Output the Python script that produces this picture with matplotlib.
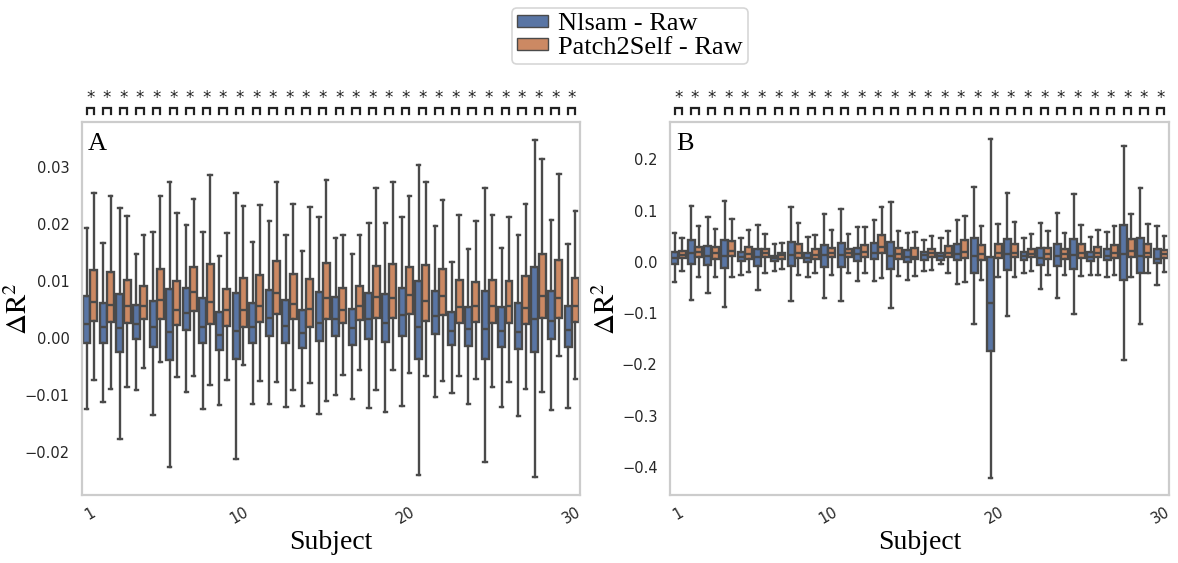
import colorsys
import matplotlib
matplotlib.use("Agg")
import matplotlib.pyplot as plt
import matplotlib.colors as mcolors
import matplotlib.transforms as mtransforms
from matplotlib.patches import Patch

subjects = list(range(1, 31))
series_names = ["Nlsam - Raw", "Patch2Self - Raw"]
tick_subjects = [1, 10, 20, 30]

# ---------- Panel A ----------
a_nl_lo = [-0.0125, -0.0112, -0.0176, -0.0091, -0.0135, -0.0226, -0.0095, -0.0125, -0.0118, -0.0212,
           -0.0115, -0.0116, -0.0121, -0.0119, -0.0133, -0.0099, -0.0106, -0.0123, -0.0130, -0.0119,
           -0.0240, -0.0104, -0.0097, -0.0115, -0.0218, -0.0120, -0.0137, -0.0244, -0.0126, -0.0122]
a_nl_q1 = [-0.0008, -0.0008, -0.0025, -0.0002, -0.0016, -0.0039, 0.0015, -0.0009, -0.0020, -0.0037,
           -0.0009, 0.0003, -0.0009, -0.0017, -0.0005, 0.0003, -0.0012, -0.0002, -0.0007, 0.0004,
           -0.0036, 0.0007, -0.0012, -0.0014, -0.0037, -0.0016, -0.0019, -0.0025, -0.0001, -0.0015]
a_nl_med = [0.0024, 0.0019, 0.0018, 0.0024, 0.0019, 0.0011, 0.0044, 0.0020, 0.0005, 0.0013,
            0.0019, 0.0035, 0.0022, 0.0009, 0.0027, 0.0033, 0.0017, 0.0033, 0.0027, 0.0040,
            0.0019, 0.0039, 0.0013, 0.0016, 0.0016, 0.0013, 0.0011, 0.0034, 0.0030, 0.0015]
a_nl_q3 = [0.0074, 0.0062, 0.0078, 0.0058, 0.0066, 0.0086, 0.0088, 0.0070, 0.0046, 0.0080,
           0.0062, 0.0084, 0.0067, 0.0050, 0.0081, 0.0073, 0.0051, 0.0080, 0.0077, 0.0088,
           0.0101, 0.0083, 0.0046, 0.0054, 0.0083, 0.0054, 0.0061, 0.0125, 0.0082, 0.0057]
a_nl_hi = [0.0194, 0.0166, 0.0229, 0.0148, 0.0186, 0.0273, 0.0199, 0.0186, 0.0144, 0.0255,
           0.0168, 0.0205, 0.0180, 0.0153, 0.0212, 0.0175, 0.0147, 0.0202, 0.0202, 0.0213,
           0.0304, 0.0196, 0.0133, 0.0156, 0.0263, 0.0158, 0.0180, 0.0347, 0.0208, 0.0165]

a_p2s_lo = [-0.0074, -0.0089, -0.0086, -0.0053, -0.0042, -0.0068, -0.0067, -0.0082, -0.0074, -0.0047,
            -0.0075, -0.0077, -0.0091, -0.0079, -0.0111, -0.0065, -0.0056, -0.0091, -0.0055, -0.0061,
            -0.0066, -0.0075, -0.0067, -0.0072, -0.0085, -0.0077, -0.0090, -0.0094, -0.0032, -0.0071]
a_p2s_q1 = [0.0030, 0.0029, 0.0026, 0.0033, 0.0034, 0.0023, 0.0047, 0.0025, 0.0022, 0.0020,
            0.0029, 0.0043, 0.0033, 0.0020, 0.0033, 0.0026, 0.0032, 0.0035, 0.0035, 0.0042,
            0.0030, 0.0041, 0.0026, 0.0029, 0.0026, 0.0027, 0.0024, 0.0036, 0.0036, 0.0029]
a_p2s_med = [0.0063, 0.0058, 0.0056, 0.0056, 0.0067, 0.0049, 0.0081, 0.0063, 0.0049, 0.0049,
             0.0056, 0.0080, 0.0060, 0.0051, 0.0070, 0.0050, 0.0056, 0.0073, 0.0070, 0.0075,
             0.0065, 0.0074, 0.0054, 0.0057, 0.0057, 0.0057, 0.0053, 0.0074, 0.0071, 0.0056]
a_p2s_q3 = [0.0119, 0.0116, 0.0102, 0.0092, 0.0121, 0.0101, 0.0125, 0.0130, 0.0087, 0.0105,
            0.0111, 0.0136, 0.0113, 0.0104, 0.0131, 0.0088, 0.0091, 0.0127, 0.0130, 0.0125,
            0.0128, 0.0122, 0.0102, 0.0099, 0.0102, 0.0101, 0.0109, 0.0148, 0.0137, 0.0106]
a_p2s_hi = [0.0254, 0.0249, 0.0215, 0.0181, 0.0250, 0.0219, 0.0244, 0.0286, 0.0184, 0.0232,
            0.0233, 0.0274, 0.0236, 0.0230, 0.0278, 0.0181, 0.0181, 0.0263, 0.0273, 0.0249,
            0.0274, 0.0242, 0.0216, 0.0205, 0.0216, 0.0212, 0.0236, 0.0315, 0.0288, 0.0223]

# ---------- Panel B ----------
b_nl_lo = [-0.040, -0.074, -0.061, -0.089, -0.025, -0.055, -0.017, -0.077, -0.029, -0.070,
           -0.076, -0.038, -0.038, -0.090, -0.036, -0.018, -0.005, -0.043, -0.122, -0.422,
           -0.105, -0.022, -0.053, -0.071, -0.102, -0.026, -0.030, -0.191, -0.121, -0.046]
b_nl_q1 = [-0.004, -0.005, -0.006, -0.012, 0.001, -0.009, 0.002, -0.009, -0.001, -0.010,
           -0.010, 0.001, 0.006, -0.013, -0.001, 0.004, 0.003, 0.003, -0.021, -0.174,
           -0.016, 0.003, -0.006, -0.009, -0.014, 0.001, 0.003, -0.035, -0.021, -0.003]
b_nl_med = [0.007, 0.017, 0.012, 0.012, 0.010, 0.010, 0.008, 0.013, 0.007, 0.013,
            0.014, 0.016, 0.018, 0.012, 0.009, 0.014, 0.012, 0.016, 0.012, -0.080,
            0.016, 0.012, 0.007, 0.012, 0.014, 0.010, 0.012, 0.015, 0.012, 0.005]
b_nl_q3 = [0.019, 0.042, 0.031, 0.042, 0.020, 0.025, 0.012, 0.038, 0.018, 0.033,
           0.036, 0.027, 0.036, 0.039, 0.023, 0.020, 0.018, 0.035, 0.046, 0.010,
           0.045, 0.020, 0.027, 0.034, 0.045, 0.020, 0.025, 0.071, 0.046, 0.026]
b_nl_hi = [0.057, 0.110, 0.087, 0.118, 0.047, 0.071, 0.034, 0.107, 0.048, 0.093,
           0.103, 0.069, 0.081, 0.116, 0.057, 0.042, 0.047, 0.081, 0.146, 0.240,
           0.135, 0.047, 0.076, 0.096, 0.133, 0.048, 0.058, 0.227, 0.145, 0.070]

b_p2s_lo = [-0.017, -0.030, -0.029, -0.029, -0.020, -0.022, -0.014, -0.026, -0.021, -0.025,
            -0.022, -0.021, -0.031, -0.027, -0.027, -0.016, -0.021, -0.040, -0.035, -0.029,
            -0.029, -0.018, -0.025, -0.025, -0.028, -0.026, -0.025, -0.029, -0.021, -0.020]
b_p2s_q1 = [0.007, 0.009, 0.006, 0.011, 0.006, 0.010, 0.006, 0.008, 0.006, 0.010,
            0.009, 0.009, 0.017, 0.006, 0.006, 0.009, 0.009, 0.007, 0.004, 0.008,
            0.009, 0.009, 0.006, 0.006, 0.008, 0.009, 0.008, 0.010, 0.009, 0.007]
b_p2s_med = [0.014, 0.019, 0.017, 0.022, 0.016, 0.017, 0.014, 0.017, 0.014, 0.018,
             0.018, 0.020, 0.029, 0.016, 0.010, 0.018, 0.018, 0.020, 0.016, 0.017,
             0.017, 0.016, 0.015, 0.016, 0.018, 0.018, 0.018, 0.021, 0.017, 0.016]
b_p2s_q3 = [0.021, 0.030, 0.029, 0.041, 0.030, 0.025, 0.017, 0.035, 0.025, 0.027,
            0.026, 0.033, 0.052, 0.028, 0.027, 0.026, 0.031, 0.042, 0.032, 0.035,
            0.035, 0.026, 0.027, 0.025, 0.034, 0.030, 0.033, 0.044, 0.035, 0.024]
b_p2s_hi = [0.046, 0.070, 0.064, 0.084, 0.063, 0.054, 0.036, 0.076, 0.053, 0.062,
            0.055, 0.068, 0.107, 0.061, 0.059, 0.051, 0.061, 0.090, 0.070, 0.074,
            0.077, 0.054, 0.061, 0.057, 0.072, 0.062, 0.070, 0.093, 0.074, 0.051]

panels = [
    ("A", [(a_nl_lo, a_nl_q1, a_nl_med, a_nl_q3, a_nl_hi),
           (a_p2s_lo, a_p2s_q1, a_p2s_med, a_p2s_q3, a_p2s_hi)],
     (-0.0275, 0.0379), [-0.02, -0.01, 0.00, 0.01, 0.02, 0.03], "{:.2f}", -0.098),
    ("B", [(b_nl_lo, b_nl_q1, b_nl_med, b_nl_q3, b_nl_hi),
           (b_p2s_lo, b_p2s_q1, b_p2s_med, b_p2s_q3, b_p2s_hi)],
     (-0.455, 0.273), [-0.4, -0.3, -0.2, -0.1, 0.0, 0.1, 0.2], "{:.1f}", -0.098),
]


def desat(c, prop=0.75):
    r, g, b = mcolors.to_rgb(c)
    h, l, s = colorsys.rgb_to_hls(r, g, b)
    return colorsys.hls_to_rgb(h, l, s * prop)


colors = [desat("#4c72b0"), desat("#dd8452")]
line_col = "#4a4a4a"
serif = "Liberation Serif"
plt.rcParams["mathtext.fontset"] = "stix"

fig = plt.figure(figsize=(11.78, 5.63), dpi=100)
axes_pos = [[0.0696, 0.1208, 0.4228, 0.6625], [0.5688, 0.1208, 0.4236, 0.6625]]

offsets = [-0.22, 0.22]
bw = 0.42

for pos, (letter, series, ylim, yticks, fmt, ylab_x) in zip(axes_pos, panels):
    ax = fig.add_axes(pos)
    for k, (lo, q1, med, q3, hi) in enumerate(series):
        stats = []
        for i in range(len(subjects)):
            stats.append(dict(whislo=lo[i], q1=q1[i], med=med[i], q3=q3[i], whishi=hi[i], fliers=[]))
        positions = [i + offsets[k] for i in range(len(subjects))]
        ax.bxp(stats, positions=positions, widths=bw, patch_artist=True, showfliers=False,
               manage_ticks=False,
               boxprops=dict(facecolor=colors[k], edgecolor=line_col, linewidth=1.7),
               medianprops=dict(color=line_col, linewidth=1.7),
               whiskerprops=dict(color=line_col, linewidth=1.7),
               capprops=dict(color=line_col, linewidth=1.7))
    ax.set_xlim(-0.5, len(subjects) - 0.5)
    ax.set_ylim(*ylim)
    ax.set_yticks(yticks)
    ax.set_yticklabels([fmt.format(v).replace("-", "\u2212") for v in yticks])
    ax.set_xticks([s - 1 for s in tick_subjects])
    ax.set_xticklabels([str(s) for s in tick_subjects], rotation=30, ha="center")
    ax.tick_params(axis="both", length=0, labelsize=10.5, labelcolor="#262626")
    ax.tick_params(axis="y", pad=9)
    ax.tick_params(axis="x", pad=7)
    for sp in ax.spines.values():
        sp.set_color("#cccccc")
        sp.set_linewidth(1.6)
    ax.set_xlabel("Subject", fontsize=20, family=serif, labelpad=2)
    ax.set_ylabel(r"$\Delta\mathrm{R}^2$", fontsize=21)
    ax.yaxis.set_label_coords(ylab_x, 0.5)
    ax.text(0.012, 0.97, letter, transform=ax.transAxes, fontsize=19, family=serif,
            va="top", ha="left")
    # significance annotations
    trans = mtransforms.blended_transform_factory(ax.transData, ax.transAxes)
    for i in range(len(subjects)):
        x0, x1 = i + offsets[0], i + offsets[1]
        ax.plot([x0, x0, x1, x1], [1.022, 1.037, 1.037, 1.022], transform=trans,
                color="#222222", lw=1.6, clip_on=False, solid_joinstyle="miter")
        ax.text(i, 1.040, "*", transform=trans, ha="center", va="bottom",
                fontsize=12, color="#222222", clip_on=False)

handles = [Patch(facecolor=colors[0], edgecolor=line_col, linewidth=1.0),
           Patch(facecolor=colors[1], edgecolor=line_col, linewidth=1.0)]
leg = fig.legend(handles, series_names, loc="upper center", bbox_to_anchor=(0.535, 0.995),
                 prop={"family": serif, "size": 19}, handlelength=1.15, handleheight=0.35,
                 labelspacing=0.05, borderpad=0.2, handletextpad=0.4, frameon=True,
                 fancybox=True, edgecolor="#cccccc", borderaxespad=0.2)
leg.get_frame().set_linewidth(1.2)

fig.savefig("out.png", dpi=100)
